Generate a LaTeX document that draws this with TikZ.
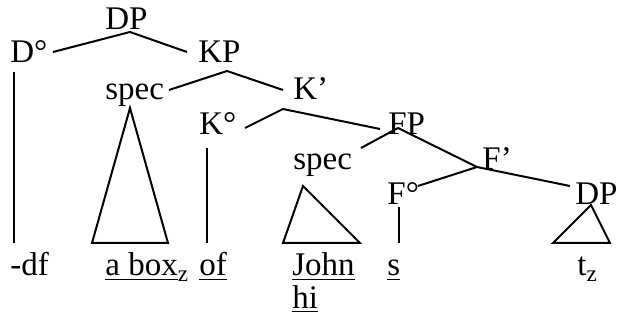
\documentclass[tikz,border=0pt]{standalone}
\usepackage{fontspec}
\setmainfont{Liberation Serif}
\begin{document}
\begin{tikzpicture}[x=0.5pt,y=-0.5pt,
  lab/.style={anchor=base west,inner sep=0pt,font=\fontsize{16.5}{16.5}\selectfont},
  br/.style={line width=1pt,line join=miter}]
\useasboundingbox (0,0) rectangle (617,320);
% labels
\node[lab] (dp) at (105,30) {DP};
\node[lab] (d0) at (10,63) {D°};
\node[lab] (kp) at (198,63) {KP};
\node[lab] (spec1) at (105,100) {spec};
\node[lab] (kbar) at (293,100) {K’};
\node[lab] (k0) at (199,135) {K°};
\node[lab] (fp) at (388,135) {FP};
\node[lab] (spec2) at (293,170) {spec};
\node[lab] (fbar) at (482,170) {F’};
\node[lab] (f0) at (387,205) {F°};
\node[lab] (dp2) at (575,205) {DP};
\node[lab] (df) at (10,276) {-df};
\node[lab] (abox) at (105,276) {\underline{a box}\textsubscript{z}};
\node[lab] (of) at (199,276) {\underline{of}};
\node[lab] (john) at (292,276) {\underline{John}};
\node[lab] (hi) at (292,309) {\underline{hi}};
\node[lab] (s) at (387,276) {\underline{s}};
\node[lab] (tz) at (577,276) {t\textsubscript{z}};
% branch points
\coordinate (dpA) at (130,32);  \coordinate (dpL) at (53,52);  \coordinate (dpR) at (187,52);
\coordinate (kpA) at (227,71);  \coordinate (kpL) at (169,90); \coordinate (kpR) at (283,90);
\coordinate (kbA) at (283,109); \coordinate (kbL) at (245,128); \coordinate (kbR) at (380,129);
\coordinate (fpA) at (398,128); \coordinate (fpL) at (361,148); \coordinate (fpR) at (477,167);
\coordinate (fbA) at (477,167); \coordinate (fbL) at (418,186); \coordinate (fbR) at (570,186);
\coordinate (d0T) at (14,72);   \coordinate (d0B) at (14,243);
\coordinate (k0T) at (207,148); \coordinate (k0B) at (207,243);
\coordinate (f0T) at (399,207); \coordinate (f0B) at (399,243);
\coordinate (t1A) at (130,108); \coordinate (t1L) at (92,243);  \coordinate (t1R) at (168,243);
\coordinate (t2A) at (303,186); \coordinate (t2L) at (283,243); \coordinate (t2R) at (360,243);
\coordinate (t3A) at (591,205); \coordinate (t3L) at (553,243); \coordinate (t3R) at (610,243);
% branches
\draw[br] (dpL) -- (dpA) -- (dpR);
\draw[br] (kpL) -- (kpA) -- (kpR);
\draw[br] (kbL) -- (kbA) -- (kbR);
\draw[br] (fpL) -- (fpA) -- (fpR);
\draw[br] (fbL) -- (fbA) -- (fbR);
\draw[br] (d0T) -- (d0B);
\draw[br] (k0T) -- (k0B);
\draw[br] (f0T) -- (f0B);
\draw[br] (t1A) -- (t1L) -- (t1R) -- cycle;
\draw[br] (t2A) -- (t2L) -- (t2R) -- cycle;
\draw[br] (t3A) -- (t3L) -- (t3R) -- cycle;
\end{tikzpicture}
\end{document}
